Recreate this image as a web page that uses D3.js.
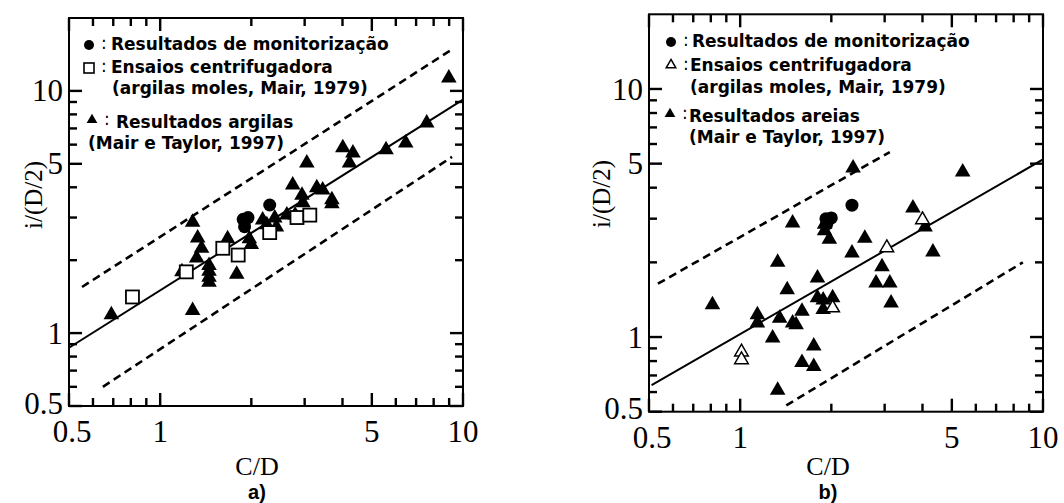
<!DOCTYPE html>
<html lang="pt">
<head>
<meta charset="UTF-8">
<title>i/(D/2) vs C/D</title>
<script src="https://d3js.org/d3.v7.min.js"></script>
<style>
    body { margin: 0; background: #fff; }
    .lbl { font-family: "Liberation Serif", "Times New Roman", serif; font-size: 31px; fill: #000; }
    .legend { font-family: "DejaVu Sans", Verdana, sans-serif; font-weight: bold; font-size: 17px; }
    .title { font-family: "Liberation Serif", "Times New Roman", serif; }
    .panel { font-family: "Liberation Sans", Arial, sans-serif; font-weight: bold; font-size: 20px; }
</style>
</head>
<body>
<div id="fig"></div>
<script>
    // tick values (both axes, both panels)
    let majorTicks = [0.5, 1, 5, 10];
    let minorTicks = [0.6, 0.7, 0.8, 0.9, 2, 3, 4, 6, 7, 8, 9];

    // a) argilas
    let monitorA = [[1.88, 2.95], [1.95, 3.0], [1.9, 2.75], [2.3, 3.38]];
    let centrifugaA = [[0.81, 1.41], [1.22, 1.79], [1.61, 2.24], [1.81, 2.1], [2.3, 2.6], [2.83, 3.0], [3.12, 3.07]];
    let argilasA = [[0.69, 1.19], [1.18, 1.79], [1.28, 2.87], [1.28, 1.24], [1.33, 2.47], [1.37, 2.24], [1.32, 2.04],
        [1.45, 1.9], [1.45, 1.8], [1.45, 1.7], [1.45, 1.62], [1.67, 2.45], [1.79, 1.75], [1.97, 2.45], [2.0, 2.32],
        [2.18, 2.93], [2.25, 2.8], [2.39, 2.99], [2.42, 2.74], [2.62, 3.07], [2.74, 4.09], [2.94, 3.71], [2.96, 3.45],
        [2.79, 3.07], [3.05, 5.04], [3.29, 3.98], [3.44, 3.9], [3.69, 3.55], [3.69, 3.42], [4.01, 5.82], [4.33, 5.54],
        [4.22, 5.04], [5.57, 5.71], [6.47, 6.1], [7.59, 7.37], [8.98, 11.3]];
    let meanA = [[0.5, 0.87], [10, 9.2]];
    let upperA = [[0.552, 1.55], [9.25, 14.9]];
    let lowerA = [[0.647, 0.6], [9.2, 5.34]];

    // b) areias
    let monitorB = [[1.92, 3.0], [2.0, 3.02], [1.93, 2.85], [2.34, 3.4]];
    let centrifugaB = [[1.01, 0.87], [1.01, 0.81], [2.02, 1.31], [3.05, 2.29], [4.0, 2.97]];
    let areiasB = [[0.81, 1.35], [1.14, 1.23], [1.14, 1.14], [1.28, 0.99], [1.33, 0.61], [1.33, 2.0], [1.35, 1.19],
        [1.43, 1.55], [1.49, 1.14], [1.53, 1.12], [1.6, 1.27], [1.6, 0.79], [1.75, 0.76], [1.75, 0.92], [1.8, 1.73],
        [1.8, 1.44], [1.88, 1.41], [1.88, 1.29], [2.02, 1.44], [1.49, 2.88], [1.9, 2.85], [1.9, 2.68], [1.97, 2.48],
        [2.36, 4.8], [2.58, 2.5], [2.34, 2.18], [2.94, 1.92], [2.81, 1.65], [3.12, 1.65], [3.15, 1.37], [3.72, 3.31],
        [4.08, 2.78], [4.33, 2.2], [5.43, 4.63]];
    let meanB = [[0.51, 0.64], [10, 5.2]];
    let upperB = [[0.535, 1.64], [3.12, 5.57]];
    let lowerB = [[1.42, 0.53], [8.58, 2.0]];

    let svg = d3.select("#fig").append("svg")
        .attr("width", 1064).attr("height", 503)

    function panel(p) {
        let x = d3.scaleLog().domain([0.5, 10]).range([p.x0, p.x1])
        let y = d3.scaleLog().domain([0.5, 20]).range([p.y0, p.y1])
        let g = svg.append("g")

        g.append("rect")
            .attr("x", p.x0).attr("y", p.y1)
            .attr("width", p.x1 - p.x0).attr("height", p.y0 - p.y1)
            .attr("fill", "none").attr("stroke", "#000").attr("stroke-width", 2)

        // inward ticks on all four sides, as small filled bars
        let ticks = majorTicks.map(v => [v, 13]).concat(minorTicks.map(v => [v, 8]))
        let bars = []
        ticks.forEach(function (t) {
            let xv = x(t[0]), yv = y(t[0]), len = t[1]
            bars.push([xv - 1.2, p.y0 - len, 2.4, len])
            bars.push([xv - 1.2, p.y1, 2.4, len])
            bars.push([p.x0, yv - 1.2, len, 2.4])
            bars.push([p.x1 - len, yv - 1.2, len, 2.4])
        })
        g.append("g").selectAll("rect").data(bars).join("rect")
            .attr("x", d => d[0]).attr("y", d => d[1])
            .attr("width", d => d[2]).attr("height", d => d[3])
            .attr("fill", "#000")

        g.selectAll(null).data(majorTicks).join("text").attr("class", "lbl")
            .attr("x", d => x(d) + (d === 0.5 ? 3 : 0)).attr("y", p.y0 + 36).attr("text-anchor", "middle")
            .text(d => String(d))
        g.selectAll(null).data(majorTicks).join("text").attr("class", "lbl")
            .attr("x", p.x0 - 6).attr("y", d => y(d) - (d === 0.5 ? 3 : 0)).attr("dy", "0.34em").attr("text-anchor", "end")
            .text(d => String(d))

        let line = d3.line().x(d => x(d[0])).y(d => y(d[1]))
        g.append("path").attr("d", line(p.mean))
            .attr("fill", "none").attr("stroke", "#000").attr("stroke-width", 2)
        ;[p.upper, p.lower].forEach(function (l) {
            g.append("path").attr("d", line(l))
                .attr("fill", "none").attr("stroke", "#000").attr("stroke-width", 2.6)
                .attr("stroke-dasharray", "8,5")
        })

        let tri = d3.symbol(d3.symbolTriangle, 105)
        g.selectAll(null).data(p.filled).join("path")
            .attr("d", tri)
            .attr("transform", d => `translate(${x(d[0])},${y(d[1])})`)
            .attr("fill", "#000")

        if (p.open === "square") {
            g.selectAll(null).data(p.centrifuga).join("rect")
                .attr("x", d => x(d[0]) - 6.5).attr("y", d => y(d[1]) - 6.5)
                .attr("width", 13).attr("height", 13)
                .attr("fill", "#fff").attr("stroke", "#000").attr("stroke-width", 1.8)
        } else {
            g.selectAll(null).data(p.centrifuga).join("path")
                .attr("d", d3.symbol(d3.symbolTriangle, 80))
                .attr("transform", d => `translate(${x(d[0])},${y(d[1])})`)
                .attr("fill", "#fff").attr("stroke", "#000").attr("stroke-width", 1.5)
        }

        g.selectAll(null).data(p.monitor).join("circle")
            .attr("cx", d => x(d[0])).attr("cy", d => y(d[1])).attr("r", 6.5)
            .attr("fill", "#000")

        // legend
        let lg = g.append("g").attr("class", "legend")
        lg.append("circle").attr("cx", p.lx).attr("cy", p.ly[0] - 5).attr("r", 5)
        if (p.open === "square") {
            lg.append("rect").attr("x", p.lx - 5).attr("y", p.ly[1] - 10).attr("width", 10).attr("height", 10)
                .attr("fill", "#fff").attr("stroke", "#000").attr("stroke-width", 1.6)
        } else {
            lg.append("path").attr("d", d3.symbol(d3.symbolTriangle, 40))
                .attr("transform", `translate(${p.lx},${p.ly[1] - 6})`)
                .attr("fill", "#fff").attr("stroke", "#000").attr("stroke-width", 1.5)
        }
        lg.append("path").attr("d", d3.symbol(d3.symbolTriangle, 50))
            .attr("transform", `translate(${p.lx + p.triDx},${p.ly[3] - 8})`)
        lg.selectAll(null).data([0, 1, 3]).join("text")
            .attr("x", d => p.lx + (d === 3 ? p.triDx + 12 : 12)).attr("y", d => p.ly[d] - (d === 3 ? 3 : 1))
            .style("font-weight", "normal").text(":")
        lg.selectAll(null).data(p.legend).join("text")
            .attr("x", (d, i) => p.tx[i]).attr("y", (d, i) => p.ly[i])
            .text(d => d)

        svg.append("text").attr("class", "title")
            .attr("transform", `translate(${p.titleX},${p.titleY}) rotate(-90)`)
            .attr("text-anchor", "middle").attr("dominant-baseline", "central")
            .style("font-size", "25px").text("i/(D/2)")
        svg.append("text").attr("class", "title")
            .attr("x", p.cdx).attr("y", 475).attr("text-anchor", "middle")
            .style("font-size", "26px").text("C/D")
        svg.append("text").attr("class", "panel")
            .attr("x", p.cdx).attr("y", 499).attr("text-anchor", "middle")
            .text(p.name)
    }

    panel({
        x0: 69, x1: 463, y0: 406, y1: 18,
        mean: meanA, upper: upperA, lower: lowerA,
        filled: argilasA, centrifuga: centrifugaA, monitor: monitorA, open: "square",
        lx: 89, triDx: 3, ly: [50, 73, 94, 128, 149],
        tx: [111, 111, 112, 116, 88],
        legend: ["Resultados de monitorização", "Ensaios centrifugadora", "(argilas moles, Mair, 1979)",
            "Resultados argilas", "(Mair e Taylor, 1997)"],
        titleX: 33, titleY: 195, cdx: 257, name: "a)"
    })
    panel({
        x0: 649, x1: 1043, y0: 411.7, y1: 14.3,
        mean: meanB, upper: upperB, lower: lowerB,
        filled: areiasB, centrifuga: centrifugaB, monitor: monitorB, open: "triangle",
        lx: 671, triDx: -1, ly: [47, 71, 93, 122, 143],
        tx: [692, 690, 690, 689, 689],
        legend: ["Resultados de monitorização", "Ensaios centrifugadora", "(argilas moles, Mair, 1979)",
            "Resultados areias", "(Mair e Taylor, 1997)"],
        titleX: 601, titleY: 194, cdx: 828, name: "b)"
    })
</script>
</body>
</html>
